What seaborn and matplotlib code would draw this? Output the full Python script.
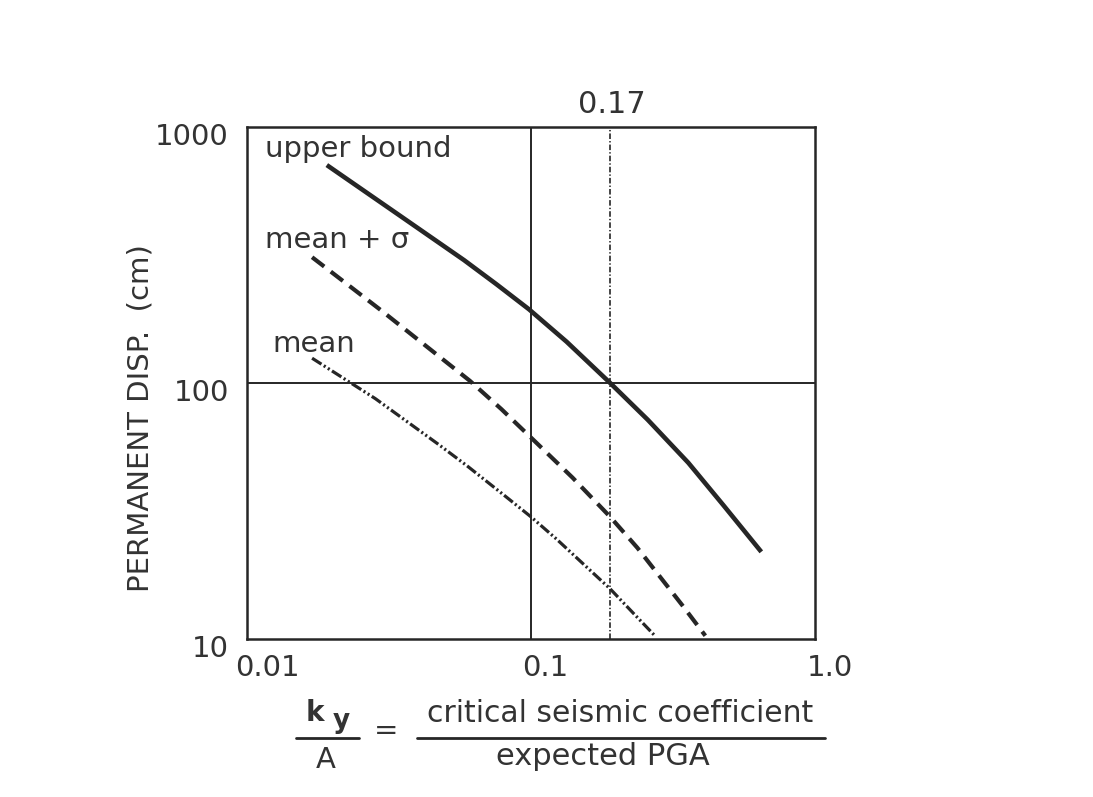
import numpy as np
import pandas as pd
import matplotlib
matplotlib.use("Agg")
import matplotlib.pyplot as plt
import seaborn as sns
from matplotlib.transforms import ScaledTranslation
from matplotlib.lines import Line2D

# ---------------- data ----------------
upper_x = [0.0191, 0.0340, 0.0581, 0.0756, 0.0984, 0.1334, 0.190, 0.2575, 0.358, 0.477, 0.647]
upper_y = [710, 456, 302, 243, 194, 145, 100, 71.9, 48.8, 33.2, 21.9]

msig_x = [0.01695, 0.0297, 0.0609, 0.0787, 0.100, 0.140, 0.190, 0.237, 0.279, 0.340, 0.411]
msig_y = [310, 192, 102, 79.0, 61.2, 42.7, 30.0, 22.7, 18.0, 13.6, 10.3]

mean_x = [0.01695, 0.0283, 0.0468, 0.0595, 0.080, 0.100, 0.1228, 0.157, 0.190, 0.231, 0.273]
mean_y = [125, 86.9, 58.0, 47.5, 36.6, 30.0, 24.6, 19.1, 15.7, 12.5, 10.3]

x_ticks = [0.01, 0.1, 1.0]
x_ticklabels = ["0.01", "0.1", "1.0"]
y_ticks = [10, 100, 1000]
y_ticklabels = ["10", "100", "1000"]
ky_line_pos = 0.19          # where the vertical marker is drawn in the figure
ky_label = "0.17"           # its label
series_names = ["upper bound", "mean + σ", "mean"]

# ---------------- figure ----------------
sns.set_theme(style="white")
plt.rcParams["font.family"] = ["DejaVu Sans"]
plt.rcParams["lines.scale_dashes"] = False

W, H = 1093, 797
fig = plt.figure(figsize=(W / 100, H / 100), dpi=100)
fig.patch.set_facecolor("white")

L, R, T, B = 247, 815, 127, 639
ax = fig.add_axes([L / W, 1 - B / H, (R - L) / W, (B - T) / H])
ax.set_facecolor("white")

ink = "#262626"
txt = "#333333"

df_u = pd.DataFrame({"x": upper_x, "y": upper_y})
df_s = pd.DataFrame({"x": msig_x, "y": msig_y})
df_m = pd.DataFrame({"x": mean_x, "y": mean_y})

sns.lineplot(data=df_u, x="x", y="y", ax=ax, color=ink, lw=3.3,
             solid_capstyle="butt", solid_joinstyle="round")
sns.lineplot(data=df_s, x="x", y="y", ax=ax, color=ink, lw=3.0)
ax.lines[-1].set_linestyle((0, (11, 6)))
sns.lineplot(data=df_m, x="x", y="y", ax=ax, color=ink, lw=2.3)
ax.lines[-1].set_linestyle((0, (8, 2, 1.5, 2, 1.5, 2)))

ax.set_xscale("log")
ax.set_yscale("log")
ax.set_xlim(0.01, 1.0)
ax.set_ylim(10, 1000)

# reference lines
ax.axvline(0.1, color=ink, lw=1.4, zorder=1)
ax.axhline(100, color=ink, lw=1.4, zorder=1)
ax.axvline(ky_line_pos, color=ink, lw=1.2, linestyle=(0, (4, 1.5, 1, 1.5)), zorder=1)

for s in ax.spines.values():
    s.set_visible(True)
    s.set_color(ink)
    s.set_linewidth(1.8)

ax.set_xticks(x_ticks)
ax.set_xticklabels(x_ticklabels)
ax.set_yticks(y_ticks)
ax.set_yticklabels(y_ticklabels)
ax.minorticks_off()
ax.tick_params(axis="both", length=0, labelsize=21, colors=txt)
ax.tick_params(axis="x", pad=11)
ax.tick_params(axis="y", pad=13)
ax.set_xlabel("")
ax.set_ylabel("")

# small offsets for the tick labels (as in the scanned figure)
x_off = [20, 14, 15]
for lab, dx in zip(ax.get_xticklabels(), x_off):
    lab.set_transform(lab.get_transform() + ScaledTranslation(dx / 100, 0, fig.dpi_scale_trans))
for lab in ax.get_yticklabels():
    lab.set_transform(lab.get_transform() + ScaledTranslation(0, -7 / 100, fig.dpi_scale_trans))


def P(x, y):
    return x / W, 1 - y / H


# curve labels
fig.text(*P(265, 157), series_names[0], fontsize=21, color=txt, ha="left", va="baseline")
fig.text(*P(265, 248), series_names[1], fontsize=21, color=txt, ha="left", va="baseline")
fig.text(*P(272, 352), series_names[2], fontsize=21, color=txt, ha="left", va="baseline")

# 0.17 label on top
fig.text(*P(612, 113), ky_label, fontsize=22, color=txt, ha="center", va="baseline")

# y axis label
fig.text(*P(140, 418), "PERMANENT DISP.  (cm)", fontsize=21, color=txt,
         rotation=90, ha="center", va="center")

# x axis label as a fraction
fig.text(*P(315, 721), "k", fontsize=20, color=txt, ha="center", va="baseline",
         fontweight="bold")
fig.text(*P(341, 728), "y", fontsize=19, color=txt, ha="center", va="baseline",
         fontweight="bold")
fig.text(*P(326, 768), "A", fontsize=21, color=txt, ha="center", va="baseline")
fig.text(*P(386, 731), "=", fontsize=21, color=txt, ha="center", va="center")
fig.text(*P(620, 722), "critical seismic coefficient", fontsize=21.5, color=txt,
         ha="center", va="baseline")
fig.text(*P(603, 765), "expected PGA", fontsize=22, color=txt, ha="center", va="baseline")

for x0, x1 in [(296, 359), (417, 825)]:
    fig.add_artist(Line2D([x0 / W, x1 / W], [1 - 738 / H, 1 - 738 / H],
                          transform=fig.transFigure, color=ink, lw=2.0))

fig.savefig("out.png", dpi=100, facecolor="white")
